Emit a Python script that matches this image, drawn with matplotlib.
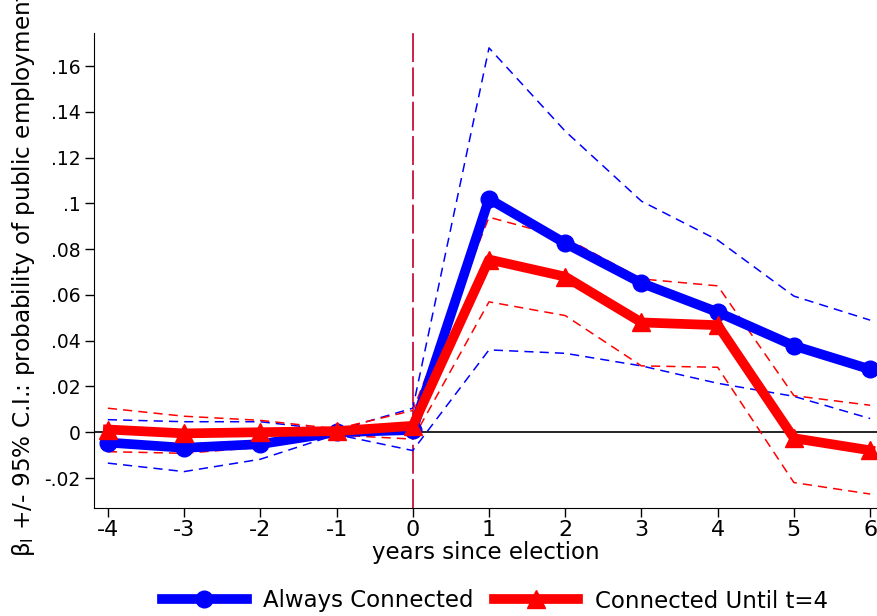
import numpy as np
import matplotlib
matplotlib.use("Agg")
import matplotlib.pyplot as plt

# years relative to election
years = [-4, -3, -2, -1, 0, 1, 2, 3, 4, 5, 6]

# Always Connected: point estimate and 95% CI
always_beta = [-0.0045, -0.0068, -0.0052, 0.0, 0.001, 0.102, 0.0826, 0.0652, 0.0525, 0.0378, 0.0275]
always_hi = [0.0055, 0.0046, 0.0046, 0.0008, 0.0105, 0.168, 0.1316, 0.101, 0.084, 0.0595, 0.049]
always_lo = [-0.0135, -0.0172, -0.0118, -0.001, -0.008, 0.036, 0.0345, 0.029, 0.0214, 0.0157, 0.006]

# Connected Until t=4: point estimate and 95% CI
until4_beta = [0.0012, -0.0005, 0.0, 0.0005, 0.0028, 0.0755, 0.068, 0.048, 0.0468, -0.0026, -0.0079]
until4_hi = [0.0105, 0.007, 0.0052, 0.0015, 0.0095, 0.094, 0.085, 0.067, 0.064, 0.016, 0.0118]
until4_lo = [-0.0085, -0.0092, -0.0066, -0.0012, -0.003, 0.057, 0.051, 0.029, 0.0284, -0.022, -0.027]

y_ticks = [-0.02, 0, 0.02, 0.04, 0.06, 0.08, 0.1, 0.12, 0.14, 0.16]
y_tick_labels = ["-.02", "0", ".02", ".04", ".06", ".08", ".1", ".12", ".14", ".16"]

plt.rcParams["font.family"] = ["DejaVu Sans"]
FS = 16.5

fig = plt.figure(figsize=(8.77, 6.16), dpi=100)
ax = fig.add_axes([0.107, 0.175, 0.893, 0.771])

# confidence bands (dashed)
ax.plot(years, always_hi, color="blue", lw=1.1, ls=(0, (6, 4)))
ax.plot(years, always_lo, color="blue", lw=1.1, ls=(0, (6, 4)))
ax.plot(years, until4_hi, color="red", lw=1.1, ls=(0, (6, 4)))
ax.plot(years, until4_lo, color="red", lw=1.1, ls=(0, (6, 4)))

# reference lines
ax.axhline(0, color="black", lw=1.2, zorder=1)
ax.axvline(0, color="#c8103c", lw=1.3, ls=(0, (16, 3)), zorder=1)

# point estimates
ax.plot(years, always_beta, color="blue", lw=7, marker="o", ms=12,
        label="Always Connected", zorder=4)
ax.plot(years, until4_beta, color="red", lw=7, marker="^", ms=13,
        label="Connected Until t=4", zorder=5)

ax.set_xlim(-4.184, 6.09)
ax.set_ylim(-0.0332, 0.1744)
ax.set_xticks(years)
ax.set_xticklabels([str(y) for y in years])
ax.set_yticks(y_ticks)
ax.set_yticklabels(y_tick_labels)
ax.tick_params(axis="x", direction="out", length=6.5, width=1, labelsize=16, pad=2)
ax.tick_params(axis="y", direction="out", length=6.5, width=1, labelsize=13.5, pad=3)
ax.spines["top"].set_visible(False)
ax.spines["right"].set_visible(False)
ax.set_xlabel("years since election", fontsize=FS, labelpad=1)

# y label runs off the top of the cropped figure
fig.text(0.027, 1 - 557 / 616, "β$_\\mathregular{l}$ +/- 95% C.I.: probability of public employment",
         rotation=90, ha="center", va="bottom", fontsize=16.7)

fig.legend(loc="center", bbox_to_anchor=(0.564, 1 - 601 / 616), ncol=2,
           frameon=False, fontsize=FS, handlelength=3.7, columnspacing=0.9,
           handletextpad=0.7)

fig.savefig("out.png", dpi=100)
